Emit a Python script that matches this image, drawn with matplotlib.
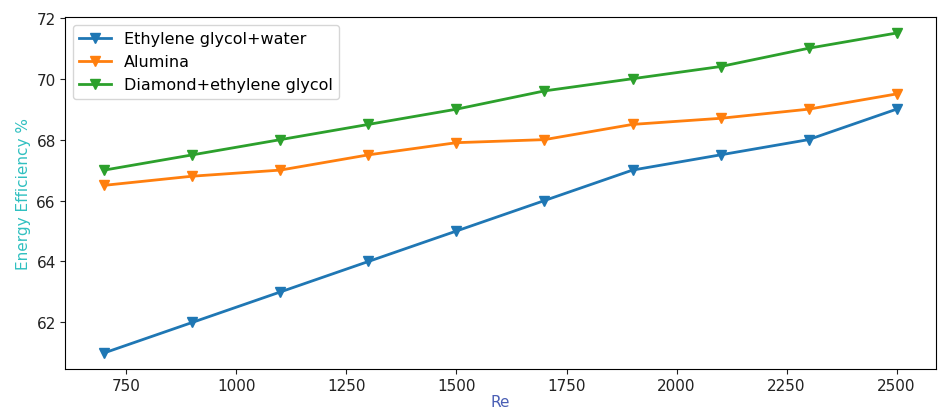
import numpy as np
import matplotlib.pyplot as plt

re = [700, 900, 1100, 1300, 1500, 1700, 1900, 2100, 2300, 2500]
eg_water = [61, 62, 63, 64, 65, 66, 67, 67.5, 68, 69]
alumina = [66.5, 66.8, 67, 67.5, 67.9, 68, 68.5, 68.7, 69, 69.5]
diamond = [67, 67.5, 68, 68.5, 69, 69.6, 70, 70.4, 71, 71.5]

plt.rcParams['font.size'] = 11.5
plt.rcParams['xtick.labelsize'] = 11
plt.rcParams['ytick.labelsize'] = 11
plt.rcParams['xtick.color'] = '#222222'
plt.rcParams['ytick.color'] = '#222222'

fig = plt.figure(figsize=(9.39, 4.10), dpi=100)
ax = fig.add_axes([0.069, 0.098, 0.928, 0.858])

ax.plot(re, eg_water, marker='v', lw=2, ms=6.8, label='Ethylene glycol+water')
ax.plot(re, alumina, marker='v', lw=2, ms=6.8, label='Alumina')
ax.plot(re, diamond, marker='v', lw=2, ms=6.8, label='Diamond+ethylene glycol')

ax.tick_params(pad=3)
ax.set_xlabel('Re', color='#4a5fb5', fontsize=11, labelpad=1)
ax.set_ylabel('Energy Efficiency %', color='#30c0c0', fontsize=11)
ax.legend(loc='upper left')

fig.savefig('out.png', dpi=100)
